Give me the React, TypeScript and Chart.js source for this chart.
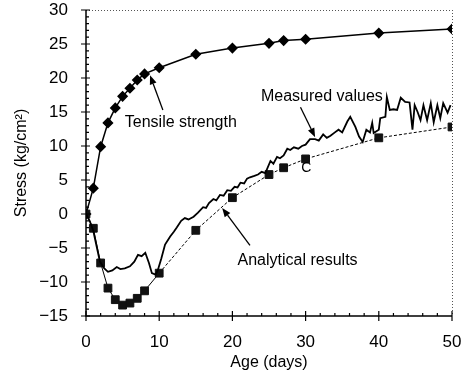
import React, { useEffect, useRef } from "react";
import { Chart, registerables } from "chart.js";

Chart.register(...registerables);

const FONT = "'Liberation Sans', Arial, Helvetica, sans-serif";

// Tensile strength (diamonds)
const tensileAge = [0, 1, 2, 3, 4, 5, 6, 7, 8, 10, 15, 20, 25, 27, 30, 40, 50];
const tensileStress = [0, 3.8, 9.9, 13.4, 15.6, 17.3, 18.5, 19.7, 20.6, 21.5, 23.5, 24.4, 25.1, 25.5, 25.7, 26.6, 27.2];

// Analytical results (squares)
const analyticalAge = [0, 1, 2, 3, 4, 5, 6, 7, 8, 10, 15, 20, 25, 27, 30, 40, 50];
const analyticalStress = [0, -2.1, -7.2, -10.9, -12.6, -13.4, -13.1, -12.4, -11.3, -8.7, -2.4, 2.4, 5.8, 6.8, 8.1, 11.2, 12.8];

// Measured values (jagged line)
const measuredAge = [
  0, 0.5, 1, 1.9, 2.5, 3.0, 3.6, 4.2, 4.7, 5.3, 6.0, 6.6, 7.1, 7.6, 8.1, 8.6, 9.0, 9.5, 9.8,
  10.3, 10.8, 11.5, 12.0, 12.4, 13.0, 13.5, 14.0, 14.7, 15.3, 16.0, 16.4, 16.8, 17.4, 17.8,
  18.3, 18.8, 19.3, 19.8, 20.3, 20.7, 21.1, 21.6, 22.0, 22.4, 23.0, 23.5, 24.0, 24.5, 25.2,
  25.6, 26.1, 26.5, 27.0, 27.5, 27.9, 28.4, 29.0, 29.5, 30.0, 30.6, 31.3, 31.8, 32.4, 32.9,
  33.4, 34.0, 34.5, 35.0, 35.7, 36.1, 36.8, 37.3, 37.8, 38.3, 38.8, 39.1, 39.3, 40.0, 40.2,
  40.9, 41.1, 41.5, 42.0, 42.5, 43.0, 43.6, 44.2, 44.6, 44.9, 45.3, 45.7, 46.1, 46.6, 47.1,
  47.5, 48.0, 48.4, 48.8, 49.4, 49.8,
];
const measuredStress = [
  0, -1, -2.5, -7.0, -8.0, -8.5, -8.3, -7.8, -8.1, -8.0, -7.7, -7.0, -6.0, -6.2, -5.7, -7.2, -8.7, -8.9, -8.3,
  -6.5, -4.5, -3.3, -2.6, -2.0, -1.0, -0.6, -0.8, -0.4, 0.2, 1.0, 0.9, 1.6, 2.2, 2.0,
  2.8, 2.7, 3.5, 3.4, 4.0, 3.9, 4.6, 4.5, 5.2, 5.4, 5.6, 5.8, 6.2, 6.0, 7.8,
  7.4, 8.4, 8.2, 8.6, 9.6, 9.4, 9.8, 9.6, 10.0, 10.2, 11.0, 11.0, 10.8, 11.7, 11.2,
  11.5, 12.0, 12.4, 12.0, 13.6, 14.3, 12.8, 11.4, 10.6, 12.4, 12.0, 13.4, 11.9, 12.4, 14.1,
  14.3, 17.2, 15.3, 15.4, 15.3, 17.1, 16.5, 16.4, 12.4, 16.0, 15.0, 13.8, 16.0, 13.8, 16.3,
  13.5, 16.0, 14.1, 16.3, 14.9, 16.0,
];

// Annotations (data coordinates)
const labelTexts = ["Tensile strength", "Measured values", "Analytical results", "C"];
const labelX = [5.3, 23.9, 20.7, 29.4];
const labelY = [13.5, 17.2, -6.8, 6.8];
const labelSizes = [16, 16, 16, 14];
const arrowFromX = [10.5, 29.3, 22.4];
const arrowFromY = [15.3, 15.7, -4.6];
const arrowToX = [8.75, 31.3, 18.6];
const arrowToY = [20.4, 11.3, 0.9];

const X_MIN = 0, X_MAX = 50, X_MAJOR = 10, X_MINOR = 2;
const Y_MIN = -15, Y_MAX = 30, Y_MAJOR = 5, Y_MINOR = 1;

const toPts = (xs: number[], ys: number[]) => xs.map((x, i) => ({ x, y: ys[i] }));

const decorPlugin = {
  id: "decor",
  afterDraw(chart: any) {
    const { ctx, chartArea, scales } = chart;
    const xs = scales.x, ys = scales.y;
    const { left, right, top, bottom } = chartArea;
    ctx.save();
    // dotted top/right frame
    ctx.strokeStyle = "#555";
    ctx.lineWidth = 1;
    ctx.setLineDash([1, 2]);
    ctx.beginPath();
    ctx.moveTo(left, top + 0.5);
    ctx.lineTo(right, top + 0.5);
    ctx.moveTo(right + 0.5, top);
    ctx.lineTo(right + 0.5, bottom);
    ctx.stroke();
    ctx.setLineDash([]);
    // solid axes
    ctx.strokeStyle = "#000";
    ctx.lineWidth = 1.5;
    ctx.beginPath();
    ctx.moveTo(left, top);
    ctx.lineTo(left, bottom);
    ctx.lineTo(right, bottom);
    ctx.stroke();
    // y ticks
    ctx.lineWidth = 1.2;
    ctx.beginPath();
    for (let v = Y_MIN; v <= Y_MAX; v += Y_MINOR) {
      const p = ys.getPixelForValue(v);
      if (v % Y_MAJOR === 0) {
        ctx.moveTo(left - 5, p);
        ctx.lineTo(left + 4, p);
      } else {
        ctx.moveTo(left, p);
        ctx.lineTo(left + 3, p);
      }
    }
    // x ticks
    for (let v = X_MIN; v <= X_MAX; v += X_MINOR) {
      const p = xs.getPixelForValue(v);
      if (v % X_MAJOR === 0) {
        ctx.moveTo(p, bottom + 5);
        ctx.lineTo(p, bottom - 5);
      } else {
        ctx.moveTo(p, bottom);
        ctx.lineTo(p, bottom - 3);
      }
    }
    ctx.stroke();
    // arrows
    ctx.fillStyle = "#000";
    ctx.lineWidth = 1.3;
    for (let i = 0; i < arrowFromX.length; i++) {
      const x1 = xs.getPixelForValue(arrowFromX[i]);
      const y1 = ys.getPixelForValue(arrowFromY[i]);
      const x2 = xs.getPixelForValue(arrowToX[i]);
      const y2 = ys.getPixelForValue(arrowToY[i]);
      const ang = Math.atan2(y2 - y1, x2 - x1);
      const hl = 9, hw = 3.5;
      const bx = x2 - hl * Math.cos(ang), by = y2 - hl * Math.sin(ang);
      ctx.beginPath();
      ctx.moveTo(x1, y1);
      ctx.lineTo(bx, by);
      ctx.stroke();
      ctx.beginPath();
      ctx.moveTo(x2, y2);
      ctx.lineTo(bx + hw * Math.sin(ang), by - hw * Math.cos(ang));
      ctx.lineTo(bx - hw * Math.sin(ang), by + hw * Math.cos(ang));
      ctx.closePath();
      ctx.fill();
    }
    // labels
    ctx.textBaseline = "middle";
    ctx.textAlign = "left";
    for (let i = 0; i < labelTexts.length; i++) {
      ctx.font = `${labelSizes[i]}px ${FONT}`;
      ctx.fillText(labelTexts[i], xs.getPixelForValue(labelX[i]), ys.getPixelForValue(labelY[i]));
    }
    ctx.restore();
  },
};

export default function App() {
  const ref = useRef<HTMLCanvasElement | null>(null);
  useEffect(() => {
    if (!ref.current) return;
    const chart = new Chart(ref.current, {
      type: "line",
      data: {
        datasets: [
          {
            label: "Measured values",
            data: toPts(measuredAge, measuredStress),
            borderColor: "#000",
            borderWidth: 1.8,
            pointRadius: 0,
            tension: 0,
          },
          {
            label: "Analytical results",
            data: toPts(analyticalAge, analyticalStress),
            borderColor: "#000",
            backgroundColor: "#000",
            borderWidth: 1,
            pointStyle: "rect",
            pointRadius: 5.5,
            pointBackgroundColor: "#111",
            pointBorderColor: "#111",
            segment: {
              borderDash: (c: any) => (c.p0.parsed.x >= 10 ? [3, 2] : undefined),
            },
            tension: 0,
          },
          {
            label: "Tensile strength",
            data: toPts(tensileAge, tensileStress),
            borderColor: "#000",
            backgroundColor: "#000",
            borderWidth: 1.5,
            pointStyle: "rectRot",
            pointRadius: 4.5,
            pointBackgroundColor: "#000",
            pointBorderColor: "#000",
            tension: 0,
          },
        ],
      },
      options: {
        animation: false,
        responsive: true,
        maintainAspectRatio: false,
        layout: { padding: { top: 10, right: 16, left: 0, bottom: 0 } },
        plugins: { legend: { display: false }, tooltip: { enabled: false } },
        scales: {
          x: {
            type: "linear",
            min: X_MIN,
            max: X_MAX,
            ticks: {
              stepSize: X_MAJOR,
              color: "#000",
              font: { size: 17, family: FONT },
              padding: 16,
              maxRotation: 0,
            },
            grid: { display: false, drawTicks: false },
            border: { display: false },
            title: {
              display: true,
              text: "Age (days)",
              color: "#000",
              font: { size: 16, family: FONT },
              padding: { top: 0, bottom: 6 },
            },
            afterFit: (s: any) => {
              s.height = 62;
              s.paddingLeft = 0;
              s.paddingRight = 0;
            },
          },
          y: {
            type: "linear",
            min: Y_MIN,
            max: Y_MAX,
            ticks: {
              stepSize: Y_MAJOR,
              color: "#000",
              font: { size: 17, family: FONT },
              padding: 18,
              callback: (v: any) => (Number(v) < 0 ? "\u2212" + Math.abs(Number(v)) : String(v)),
            },
            grid: { display: false, drawTicks: false },
            border: { display: false },
            title: {
              display: true,
              text: "Stress (kg/cm\u00B2)",
              color: "#000",
              font: { size: 16, family: FONT },
              padding: { top: 12, bottom: 0 },
            },
            afterFit: (s: any) => {
              s.width = 86;
              s.paddingTop = 0;
              s.paddingBottom = 0;
            },
          },
        },
      },
      plugins: [decorPlugin],
    });
    return () => chart.destroy();
  }, []);
  return (
    <div style={{ position: "absolute", left: 0, top: 0, width: 468, height: 378, background: "#fff" }}>
      <canvas ref={ref} />
    </div>
  );
}
